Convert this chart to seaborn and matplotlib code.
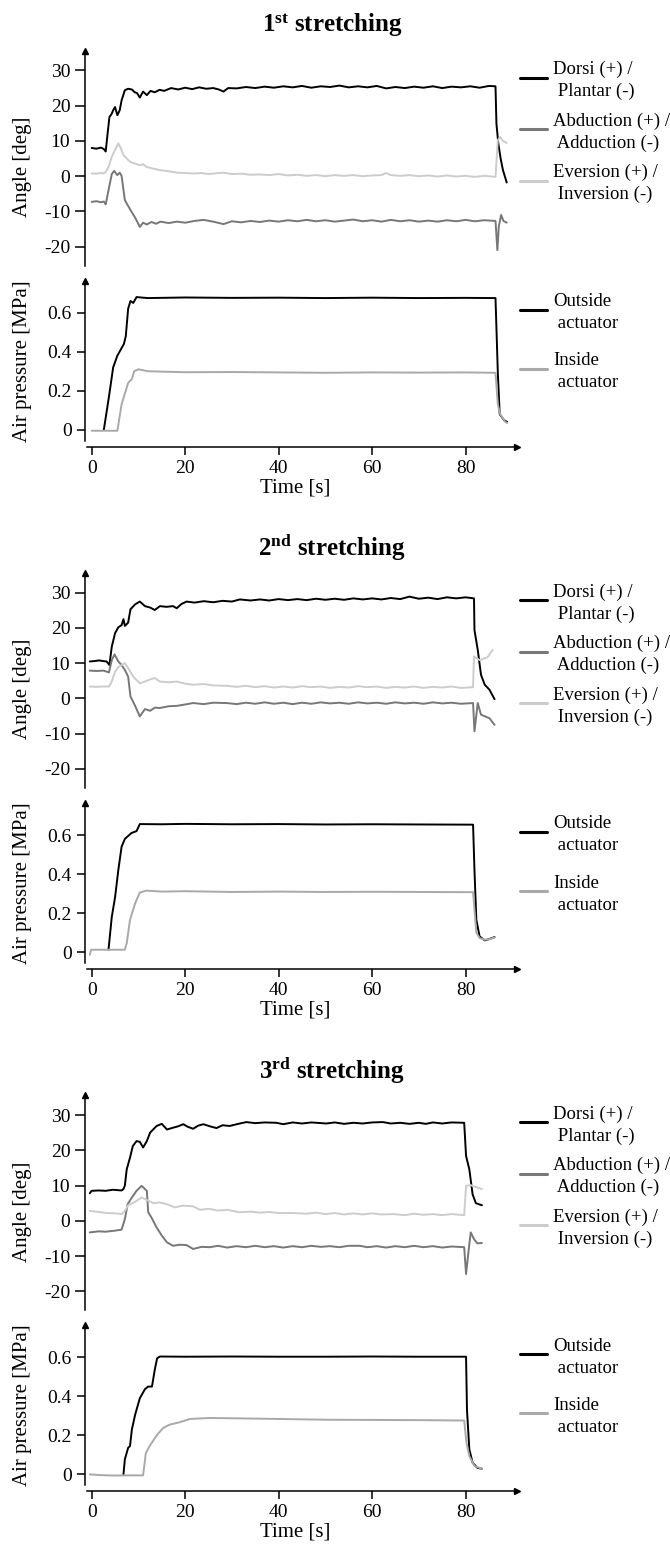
import numpy as np
import pandas as pd
import matplotlib
matplotlib.use("Agg")
import matplotlib.pyplot as plt
import matplotlib.transforms as mtransforms
from matplotlib.lines import Line2D
import seaborn as sns

# ---------------- data (time [s], value) ----------------
# 1st stretching
dorsi_1 = [(0, 8.0), (1.0, 7.8), (2.0, 8.1), (2.6, 7.7), (3.0, 7.0), (3.4, 12.0), (3.8, 16.8), (4.2, 17.5),
           (4.6, 18.7), (5.0, 19.6), (5.5, 17.3), (6.0, 18.7), (6.4, 21.5), (7.1, 24.4), (7.8, 24.8), (8.6, 24.6),
           (9.2, 23.8), (9.7, 23.6), (10.3, 22.3), (11.0, 24.0), (11.8, 23.0), (12.6, 24.2), (13.5, 23.8),
           (14.5, 24.5), (15.5, 24.2), (17, 25.0), (18.5, 24.6), (20, 25.1), (21.5, 24.7), (23, 25.2), (24.5, 24.8),
           (26, 25.0), (27.2, 24.6), (28.2, 24.0), (29.2, 25.0), (31, 24.9), (33, 25.3), (35, 25.0), (37, 25.4),
           (39, 25.1), (41, 25.5), (43, 25.2), (45, 25.6), (47, 25.1), (49, 25.5), (51, 25.3), (53, 25.7),
           (55, 25.2), (57, 25.5), (59, 25.2), (61, 25.6), (63, 24.9), (65, 25.3), (67, 25.0), (69, 25.4),
           (71, 25.1), (73, 25.5), (75, 25.0), (77, 25.4), (79, 25.2), (81, 25.5), (83, 25.1), (85, 25.6),
           (86.4, 25.5), (86.6, 14.9), (87.0, 9.3), (87.5, 5.0), (88.0, 1.7), (88.8, -1.8)]
abduct_1 = [(0, -7.3), (1, -7.1), (2, -7.4), (2.6, -7.2), (3.0, -8.0), (3.6, -4.0), (4.3, 0.6), (4.8, 1.5),
            (5.2, 0.8), (5.5, 0.3), (6.0, 1.0), (6.4, 0.1), (7.1, -6.8), (8.3, -9.6), (9.4, -12.0), (10.3, -14.4),
            (11.0, -13.2), (11.8, -13.7), (12.8, -13.0), (13.8, -13.5), (14.7, -12.9), (16.5, -13.3),
            (18.2, -12.9), (20, -13.2), (22, -12.7), (23.9, -12.4), (26, -12.9), (28.2, -13.6), (30, -12.8),
            (32, -13.1), (34, -12.7), (36, -13.0), (38, -12.6), (40, -12.9), (42, -12.5), (44, -12.8),
            (46, -12.4), (48, -12.8), (50, -12.5), (52, -12.9), (54, -12.6), (56, -12.3), (58, -12.8),
            (60, -12.5), (62, -12.9), (64, -12.4), (66, -12.8), (68, -12.5), (70, -12.9), (72, -12.6),
            (74, -12.9), (76, -12.5), (78, -12.8), (80, -12.4), (82, -12.8), (84, -12.5), (86.4, -12.7),
            (86.8, -21.0), (87.1, -14.3), (87.6, -11.0), (88.1, -12.7), (88.8, -13.2)]
evers_1 = [(0, 0.8), (1, 0.7), (2, 0.9), (2.6, 0.8), (3.0, 1.2), (3.6, 2.6), (4.3, 5.5), (5.0, 7.4), (5.7, 9.3),
           (6.2, 8.0), (6.8, 6.0), (7.5, 5.0), (8.3, 4.0), (9.2, 3.6), (10.3, 3.1), (11.0, 3.4), (11.8, 2.6),
           (13, 2.2), (14.7, 1.7), (16.5, 1.4), (18.2, 1.0), (20, 0.9), (21.7, 0.75), (23.5, 0.9), (25, 0.6),
           (26.5, 0.8), (28.2, 1.0), (30, 0.6), (32, 0.7), (34, 0.4), (36, 0.5), (38, 0.3), (40, 0.6), (42, 0.2),
           (44, 0.4), (46, 0.1), (48, 0.3), (50, 0.0), (52, 0.3), (54, 0.1), (56, 0.3), (58, 0.0), (60, 0.2),
           (62, 0.3), (63, 0.9), (64, 0.3), (66, 0.1), (68, 0.3), (70, 0.0), (72, 0.2), (74, -0.1), (76, 0.2),
           (78, -0.1), (80, 0.1), (82, -0.2), (84, 0.1), (86.4, -0.2), (86.9, 10.2), (87.4, 11.1), (88.0, 10.0),
           (88.8, 9.4)]
outside_1 = [(2.6, 0.0), (3.7, 0.17), (4.6, 0.32), (5.5, 0.38), (6.2, 0.41), (6.9, 0.44), (7.3, 0.48),
             (7.8, 0.62), (8.3, 0.66), (8.9, 0.65), (9.6, 0.68), (12, 0.675), (20, 0.678), (30, 0.676),
             (40, 0.677), (50, 0.675), (60, 0.677), (70, 0.675), (80, 0.676), (86.4, 0.675), (86.9, 0.29),
             (87.3, 0.08), (88.2, 0.05), (88.9, 0.04)]
inside_1 = [(0, -0.005), (5.5, -0.005), (6.4, 0.13), (7.8, 0.24), (8.6, 0.26), (9.1, 0.30), (10.0, 0.31),
            (12, 0.30), (15, 0.298), (20, 0.295), (30, 0.296), (40, 0.294), (50, 0.292), (60, 0.294),
            (70, 0.293), (80, 0.294), (86.4, 0.292), (86.9, 0.13), (87.4, 0.08), (88.5, 0.04), (88.9, 0.035)]

# 2nd stretching
dorsi_2 = [(-0.4, 10.5), (0.5, 10.6), (1.6, 10.8), (2.5, 10.6), (3.2, 10.5), (3.8, 9.5), (4.3, 14.7),
           (5.0, 18.5), (5.7, 20.2), (6.4, 20.8), (6.8, 22.5), (7.1, 20.6), (7.8, 21.5), (8.3, 25.3),
           (9.3, 26.7), (10.3, 27.5), (11.4, 26.2), (12.5, 25.8), (13.5, 25.1), (14.6, 26.2), (16, 26.0),
           (17.4, 26.2), (18.2, 25.6), (19.2, 26.8), (20.3, 27.5), (22, 27.2), (24, 27.6), (26, 27.3),
           (28, 27.7), (30, 27.5), (31.7, 28.1), (34, 27.8), (36, 28.1), (38, 27.8), (40, 28.2), (42, 27.9),
           (44, 28.2), (46, 27.9), (48, 28.3), (50, 28.0), (52, 28.3), (54, 28.0), (56, 28.4), (58, 28.1),
           (60, 28.4), (62, 28.1), (64, 28.5), (66, 28.2), (68, 28.9), (70, 28.3), (72, 28.6), (74, 28.2),
           (76, 28.7), (78, 28.4), (80, 28.7), (81.8, 28.4), (81.9, 19.4), (82.6, 13.8), (83.3, 6.7),
           (84.1, 3.9), (85.1, 2.5), (86.2, -0.2)]
abduct_2 = [(-0.4, 7.9), (1, 7.8), (2.5, 7.9), (3.7, 7.4), (4.3, 10.9), (4.9, 12.5), (5.7, 10.5), (6.4, 9.5),
            (7.1, 8.1), (7.8, 6.2), (8.3, 0.6), (9.3, -2.1), (10.3, -5.1), (11.4, -3.0), (12.5, -3.5),
            (13.5, -2.6), (14.6, -2.7), (16.5, -2.2), (18.2, -2.1), (20, -1.7), (21.7, -1.3), (24, -1.6),
            (26, -1.2), (28.9, -1.3), (31, -1.6), (33, -1.2), (35, -1.5), (37, -1.1), (39, -1.5), (41, -1.2),
            (43, -1.6), (45, -1.2), (47, -1.5), (49, -1.1), (51, -1.4), (53, -1.2), (55, -1.5), (57, -1.1),
            (59, -1.4), (61, -1.2), (63, -1.5), (65, -1.1), (67, -1.4), (69, -1.2), (71, -1.5), (73, -1.1),
            (75, -1.4), (77, -1.2), (79, -1.5), (81.6, -1.3), (81.9, -9.3), (82.6, -1.3), (83.3, -4.6),
            (85.1, -5.6), (86.2, -7.5)]
evers_2 = [(-0.4, 3.4), (1, 3.3), (2.5, 3.4), (3.7, 3.4), (4.3, 4.8), (5.0, 7.6), (5.7, 8.9), (6.4, 9.5),
           (7.1, 10.0), (7.8, 8.6), (8.9, 6.2), (10.3, 4.3), (11.4, 4.8), (12.5, 5.4), (13.5, 5.8), (14.6, 4.8),
           (16.5, 4.6), (18.2, 4.8), (20, 4.2), (21.7, 3.9), (24, 4.1), (26, 3.7), (28.9, 3.6), (31, 3.3),
           (33, 3.6), (35, 3.2), (37, 3.5), (39, 3.1), (41, 3.4), (43, 3.1), (45, 3.5), (47, 3.2), (49, 3.4),
           (51, 3.0), (53, 3.3), (55, 3.1), (57, 3.5), (59, 3.2), (61, 3.4), (63, 3.0), (65, 3.3), (67, 3.1),
           (69, 3.4), (71, 3.0), (73, 3.3), (75, 3.1), (77, 3.4), (79, 3.0), (81.6, 3.2), (81.8, 11.9),
           (83.0, 10.9), (84.7, 11.7), (85.8, 13.8)]
outside_2 = [(3.6, 0.012), (4.3, 0.18), (5.0, 0.28), (5.7, 0.42), (6.4, 0.54), (7.1, 0.58), (7.8, 0.595),
             (8.5, 0.61), (9.6, 0.62), (10.3, 0.656), (15, 0.655), (20, 0.657), (30, 0.655), (40, 0.656),
             (50, 0.654), (60, 0.655), (70, 0.654), (81.6, 0.653), (81.9, 0.42), (82.3, 0.165), (83.0, 0.08),
             (84.1, 0.06), (85.1, 0.067), (86.2, 0.077)]
inside_2 = [(-0.4, -0.014), (-0.1, 0.012), (3, 0.012), (7.1, 0.012), (7.5, 0.046), (8.2, 0.165), (9.3, 0.25),
            (10.3, 0.305), (11.7, 0.315), (15, 0.31), (20, 0.312), (30, 0.308), (40, 0.31), (50, 0.308),
            (60, 0.309), (70, 0.308), (81.6, 0.307), (81.9, 0.22), (82.3, 0.10), (83.0, 0.072), (84.1, 0.063),
            (85.1, 0.066), (86.2, 0.075)]

# 3rd stretching
dorsi_3 = [(-0.4, 7.8), (0, 8.5), (1.5, 8.6), (3, 8.5), (4.5, 8.8), (6.4, 8.6), (6.8, 9.0), (7.1, 10.0),
           (7.5, 14.6), (8.2, 17.9), (8.8, 21.2), (9.6, 22.6), (10.3, 22.4), (11.0, 20.8), (11.8, 22.6),
           (12.5, 25.0), (13.9, 26.9), (15.0, 27.5), (16.1, 25.9), (17.4, 26.4), (18.5, 26.8), (19.6, 27.4),
           (20.5, 26.7), (21.7, 26.1), (22.8, 27.0), (23.9, 27.4), (25.3, 26.8), (26.7, 26.3), (28, 27.1),
           (29.5, 26.9), (31.7, 27.6), (33.1, 28.0), (35, 27.7), (37, 27.9), (39.5, 27.8), (41, 27.4),
           (43, 27.9), (45, 27.6), (47, 27.9), (50.2, 27.6), (52, 27.9), (54, 27.5), (56, 27.8), (58, 27.6),
           (60, 27.9), (62.3, 28.0), (64, 27.6), (66, 27.8), (68, 27.5), (70, 27.8), (71.5, 27.5), (73, 27.9),
           (75, 27.6), (77, 27.9), (79.7, 27.8), (80.1, 18.4), (80.8, 14.6), (81.5, 7.5), (82.2, 5.0),
           (83.5, 4.4)]
abduct_3 = [(-0.4, -3.3), (1.5, -3.0), (3, -3.1), (5, -2.8), (6.4, -2.5), (7.1, 0.5), (7.7, 4.7), (8.6, 6.6),
            (9.6, 8.5), (10.7, 9.9), (11.8, 8.5), (12.1, 2.4), (12.8, 0.9), (13.9, -1.9), (15.0, -4.2),
            (16.1, -6.1), (17.4, -7.1), (18.8, -6.8), (20.3, -6.9), (21.7, -8.0), (23.5, -7.4), (25.3, -7.5),
            (27, -7.1), (29, -7.6), (31, -7.2), (33, -7.5), (35, -7.1), (37, -7.5), (39, -7.2), (41, -7.6),
            (43, -7.2), (45, -7.5), (47, -7.1), (49, -7.4), (51, -7.2), (53, -7.5), (55, -7.1), (57.4, -7.1),
            (59, -7.5), (61, -7.2), (63, -7.6), (65, -7.2), (67, -7.5), (69, -7.1), (71, -7.5), (73, -7.2),
            (75, -7.6), (77, -7.3), (79.7, -7.5), (80.1, -15.1), (80.6, -9.0), (81.1, -3.3), (81.8, -5.2),
            (82.5, -6.4), (83.5, -6.3)]
evers_3 = [(-0.4, 2.8), (1.5, 2.5), (3.2, 2.2), (5, 2.1), (6.4, 1.9), (7.1, 2.8), (7.8, 4.4), (9.3, 5.4),
           (10.7, 6.6), (11.8, 5.9), (13.2, 5.0), (14.5, 5.2), (16.1, 4.7), (17.8, 3.8), (19.5, 4.3),
           (21.7, 4.1), (23.2, 3.1), (25, 3.4), (27, 2.9), (29, 3.1), (31.7, 2.4), (34, 2.6), (36, 2.3),
           (38, 2.5), (40, 2.2), (43.1, 2.2), (46, 2.0), (48, 2.3), (50, 1.9), (52, 2.2), (54, 1.8), (56, 2.1),
           (58, 1.8), (60, 2.1), (62, 1.8), (64.5, 1.9), (67, 1.6), (69, 2.0), (71, 1.7), (73, 1.9), (75, 1.6),
           (77, 1.9), (79.7, 1.6), (80.1, 9.9), (81.1, 10.1), (82.5, 9.4), (83.5, 9.0)]
outside_3 = [(6.8, 0.0), (7.1, 0.077), (7.8, 0.136), (8.2, 0.145), (8.6, 0.23), (9.3, 0.306), (10.3, 0.39),
             (11.4, 0.437), (12.1, 0.45), (12.9, 0.45), (13.5, 0.536), (14.0, 0.595), (14.6, 0.604),
             (20, 0.603), (30, 0.604), (40, 0.603), (50, 0.603), (60, 0.604), (70, 0.603), (80.1, 0.603),
             (80.3, 0.33), (80.8, 0.128), (81.5, 0.06), (82.5, 0.034), (83.5, 0.029)]
inside_3 = [(-0.4, 0.0), (2, -0.004), (5, -0.006), (8, -0.005), (11.0, -0.005), (11.6, 0.11), (12.4, 0.145),
            (13.9, 0.20), (15.3, 0.238), (16.7, 0.255), (18.8, 0.267), (21.0, 0.284), (25.3, 0.289),
            (31.7, 0.287), (40, 0.284), (50.2, 0.28), (60, 0.279), (70, 0.278), (79.7, 0.276), (80.2, 0.16),
            (80.8, 0.094), (81.9, 0.043), (83.5, 0.029)]

ordinals = ["1", "2", "3"]
suffixes = ["st", "nd", "rd"]
angle_ticks = [-20, -10, 0, 10, 20, 30]
press_ticks = [0, 0.2, 0.4, 0.6]
press_ticklabels = ["0", "0.2", "0.4", "0.6"]
time_ticks = [0, 20, 40, 60, 80]
angle_labels = [("Dorsi (+) /", "Plantar (-)"), ("Abduction (+) /", "Adduction (-)"),
                ("Eversion (+) /", "Inversion (-)")]
press_labels = [("Outside", "actuator"), ("Inside", "actuator")]

angle_data = [[dorsi_1, abduct_1, evers_1], [dorsi_2, abduct_2, evers_2], [dorsi_3, abduct_3, evers_3]]
press_data = [[outside_1, inside_1], [outside_2, inside_2], [outside_3, inside_3]]

angle_colors = ["#000000", "#777777", "#cccccc"]
press_colors = ["#000000", "#a9a9a9"]

# ---------------- style ----------------
sns.set_theme(style="ticks")
plt.rcParams["font.family"] = ["Liberation Serif", "DejaVu Serif"]
plt.rcParams["axes.unicode_minus"] = False
plt.rcParams["mathtext.fontset"] = "custom"
plt.rcParams["mathtext.rm"] = "Liberation Serif"
plt.rcParams["mathtext.bf"] = "Liberation Serif:bold"
for key in ["text.color", "axes.labelcolor", "xtick.color", "ytick.color",
            "xtick.labelcolor", "ytick.labelcolor", "axes.edgecolor"]:
    plt.rcParams[key] = "black"

W, H = 670, 1550
GAP = 522.3
fig = plt.figure(figsize=(W / 100, H / 100), dpi=100)


def box(left, top, right, bottom):
    return [left / W, 1 - bottom / H, (right - left) / W, (bottom - top) / H]


def arrow(ax, x, y, dx, dy, marker):
    tr = mtransforms.offset_copy(ax.transAxes, fig=fig, x=dx, y=dy, units="points")
    ax.plot([x], [y], marker=marker, color="black", ms=5, transform=tr, clip_on=False)


def legend_entry(y_line, color, lines):
    fig.add_artist(Line2D([520 / W, 547 / W], [1 - y_line / H] * 2, color=color, lw=2.2))
    fig.text(553 / W, 1 - (y_line - 8) / H, lines[0], fontsize=13.5, va="center", ha="left")
    fig.text(553 / W, 1 - (y_line + 14) / H, " " + lines[1], fontsize=13.5, va="center", ha="left")


for g in range(3):
    off = g * GAP

    fig.text(332 / W, 1 - (25 + off) / H,
             r"$\mathbf{" + ordinals[g] + "^{" + suffixes[g] + "}}$ stretching",
             fontsize=18, fontweight="bold", ha="center", va="center")

    # angle panel
    ax1 = fig.add_axes(box(87, 50.7 + off, 517, 265.7 + off))
    for series, col in zip(angle_data[g], angle_colors):
        df = pd.DataFrame(series, columns=["t", "v"])
        sns.lineplot(data=df, x="t", y="v", ax=ax1, color=col, lw=1.4, estimator=None, sort=False)
    ax1.set_xlim(-1, 91)
    ax1.set_ylim(-25.4, 35.6)
    ax1.set_yticks(angle_ticks)
    ax1.set_ylabel("Angle [deg]", fontsize=15)
    ax1.set_xlabel("")
    ax1.yaxis.set_label_coords(-0.128, 0.46)
    sns.despine(ax=ax1, bottom=True, offset={"left": 1.5})
    ax1.tick_params(axis="y", length=7, width=1.1, pad=3.5, labelsize=14, color="black")
    ax1.tick_params(axis="x", bottom=False, labelbottom=False)
    ax1.spines["left"].set_linewidth(1.1)
    ax1.spines["left"].set_color("black")
    arrow(ax1, 0, 1, -1.5, 0, "^")

    # pressure panel
    ax2 = fig.add_axes(box(87, 280.7 + off, 517, 440.7 + off))
    for series, col in zip(press_data[g], press_colors):
        df = pd.DataFrame(series, columns=["t", "v"])
        sns.lineplot(data=df, x="t", y="v", ax=ax2, color=col, lw=1.4, estimator=None, sort=False)
    ax2.set_xlim(-1, 91)
    ax2.set_ylim(-0.056, 0.764)
    ax2.set_yticks(press_ticks)
    ax2.set_yticklabels(press_ticklabels)
    ax2.set_xticks(time_ticks)
    ax2.set_ylabel("Air pressure [MPa]", fontsize=15)
    ax2.set_xlabel("Time [s]", fontsize=15)
    ax2.yaxis.set_label_coords(-0.128, 0.5)
    ax2.xaxis.set_label_coords(0.484, -0.235)
    sns.despine(ax=ax2, offset={"left": 1.5, "bottom": 4.3})
    ax2.tick_params(axis="both", length=6, width=1.1, pad=3.5, labelsize=14, color="black")
    for s in ["left", "bottom"]:
        ax2.spines[s].set_linewidth(1.1)
        ax2.spines[s].set_color("black")
    arrow(ax2, 0, 1, -1.5, 0, "^")
    arrow(ax2, 1, 0, 0, -4.3, ">")

    for k, (lab, col) in enumerate(zip(angle_labels, angle_colors)):
        legend_entry(77.7 + 51.5 * k + off, col, lab)
    for k, (lab, col) in enumerate(zip(press_labels, press_colors)):
        legend_entry(309.7 + 59 * k + off, col, lab)

fig.savefig("out.png", dpi=100)
